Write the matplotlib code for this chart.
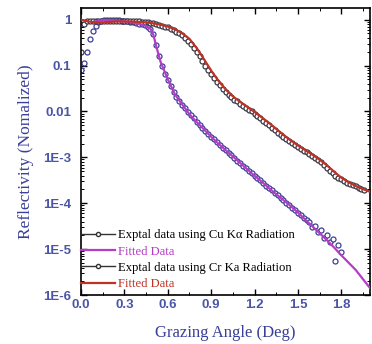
import numpy as np
import matplotlib
matplotlib.use("Agg")
import matplotlib.pyplot as plt
from matplotlib.ticker import FixedLocator, LogLocator, NullFormatter
from matplotlib.lines import Line2D

# ---------------- data (log10 of normalized reflectivity) ----------------
cu_x_start, cu_x_step = 0.0, 0.02
cu_exp_log10 = [-1.10, -0.95, -0.70, -0.42, -0.25, -0.13, -0.06, -0.03, -0.01, 0.00,
                0.00, 0.00, -0.01, -0.01, -0.02, -0.03, -0.04, -0.05, -0.06, -0.07,
                -0.09, -0.10, -0.12, -0.15, -0.20, -0.32, -0.56, -0.80, -1.00, -1.18,
                -1.32, -1.45, -1.58, -1.68, -1.78, -1.86, -1.93, -2.01, -2.08, -2.15,
                -2.22, -2.30, -2.37, -2.43, -2.49, -2.55, -2.61, -2.67, -2.73, -2.79,
                -2.84, -2.90, -2.95, -3.01, -3.07, -3.12, -3.18, -3.23, -3.29, -3.34,
                -3.40, -3.45, -3.50, -3.56, -3.62, -3.66, -3.72, -3.77, -3.82, -3.88,
                -3.92, -3.99, -4.03, -4.10, -4.14, -4.22, -4.25, -4.33, -4.37, -4.40,
                -4.52, -4.50, -4.62, -4.58, -4.75, -4.70, -4.85, -4.78, -5.25, -4.90,
                -5.05]

cr_x_start, cr_x_step = 0.0, 0.02
cr_exp_log10 = [-0.70, -0.10, -0.04, -0.03, -0.03, -0.03, -0.02, -0.02, -0.02, -0.02,
                -0.02, -0.02, -0.02, -0.02, -0.03, -0.03, -0.03, -0.03, -0.04, -0.04,
                -0.04, -0.05, -0.05, -0.06, -0.07, -0.08, -0.09, -0.11, -0.13, -0.15,
                -0.17, -0.20, -0.23, -0.26, -0.30, -0.34, -0.40, -0.46, -0.52, -0.62,
                -0.70, -0.80, -0.90, -1.00, -1.10, -1.18, -1.27, -1.35, -1.43, -1.51,
                -1.58, -1.64, -1.69, -1.74, -1.78, -1.83, -1.87, -1.92, -1.96, -2.00,
                -2.05, -2.10, -2.15, -2.20, -2.25, -2.30, -2.36, -2.41, -2.46, -2.51,
                -2.56, -2.61, -2.65, -2.69, -2.73, -2.77, -2.81, -2.85, -2.89, -2.93,
                -2.97, -3.01, -3.06, -3.11, -3.17, -3.23, -3.29, -3.34, -3.40, -3.44,
                -3.48, -3.52, -3.55, -3.58, -3.61, -3.63, -3.66, -3.68, -3.70]

cu_fit_x = [0.10, 0.15, 0.20, 0.25, 0.30, 0.35, 0.40, 0.45, 0.48, 0.50, 0.52, 0.55,
            0.60, 0.65, 0.70, 0.75, 0.80, 0.85, 0.90, 0.95, 1.00, 1.05, 1.10, 1.15,
            1.20, 1.25, 1.30, 1.35, 1.40, 1.45, 1.50, 1.55, 1.60, 1.65, 1.70, 1.75,
            1.80, 1.85, 1.90, 1.95, 2.00]
cu_fit_log10 = [-0.04, -0.01, -0.01, -0.02, -0.04, -0.06, -0.09, -0.14, -0.20, -0.33,
                -0.58, -0.92, -1.30, -1.63, -1.85, -2.06, -2.23, -2.39, -2.55, -2.70,
                -2.84, -2.98, -3.12, -3.26, -3.40, -3.53, -3.67, -3.80, -3.93, -4.06,
                -4.20, -4.35, -4.50, -4.65, -4.80, -4.96, -5.13, -5.29, -5.45, -5.65,
                -5.85]

cr_fit_x = [0.00, 0.05, 0.10, 0.15, 0.20, 0.25, 0.30, 0.35, 0.40, 0.45, 0.50, 0.55,
            0.60, 0.65, 0.70, 0.75, 0.80, 0.85, 0.90, 0.95, 1.00, 1.05, 1.10, 1.15,
            1.20, 1.25, 1.30, 1.35, 1.40, 1.45, 1.50, 1.55, 1.60, 1.65, 1.70, 1.75,
            1.80, 1.85, 1.90, 1.95, 2.00]
cr_fit_log10 = [0.00, -0.04, -0.06, -0.06, -0.05, -0.04, -0.04, -0.04, -0.05, -0.06,
                -0.08, -0.11, -0.15, -0.21, -0.30, -0.42, -0.62, -0.86, -1.11, -1.33,
                -1.52, -1.67, -1.79, -1.90, -2.01, -2.13, -2.25, -2.38, -2.51, -2.63,
                -2.74, -2.84, -2.94, -3.05, -3.17, -3.31, -3.44, -3.54, -3.62, -3.69,
                -3.75]

x_ticks = [0.0, 0.3, 0.6, 0.9, 1.2, 1.5, 1.8]
x_tick_labels = ["0.0", "0.3", "0.6", "0.9", "1.2", "1.5", "1.8"]
y_ticks = [1e-6, 1e-5, 1e-4, 1e-3, 1e-2, 1e-1, 1]
y_tick_labels = ["1E-6", "1E-5", "1E-4", "1E-3", "0.01", "0.1", "1"]

legend_labels = ["Exptal data using Cu K\u03b1 Radiation", "Fitted Data",
                 "Exptal data using Cr Ka Radiation", "Fitted Data"]

# ---------------- styling ----------------
tick_color = "#4a55a8"
label_color = "#3a3f98"
cu_marker_color = "#3d3f95"
cu_fit_color = "#b53dc6"
cr_marker_color = "#3a3a48"
cr_fit_color = "#bf3326"

fig = plt.figure(figsize=(3.72, 3.44), dpi=100)
ax = fig.add_axes([0.218, 0.142, 0.777, 0.835])

cu_x = cu_x_start + cu_x_step * np.arange(len(cu_exp_log10))
cr_x = cr_x_start + cr_x_step * np.arange(len(cr_exp_log10))

ax.plot(cu_x, np.power(10.0, cu_exp_log10), linestyle="none", marker="o",
        markersize=3.6, markerfacecolor="white", markeredgecolor=cu_marker_color,
        markeredgewidth=0.9, zorder=2)
ax.plot(cu_fit_x, np.power(10.0, cu_fit_log10), color=cu_fit_color, lw=1.6, zorder=3)
ax.plot(cr_x, np.power(10.0, cr_exp_log10), linestyle="none", marker="o",
        markersize=3.6, markerfacecolor="white", markeredgecolor=cr_marker_color,
        markeredgewidth=0.9, zorder=2)
ax.plot(cr_fit_x, np.power(10.0, cr_fit_log10), color=cr_fit_color, lw=1.6, zorder=3)

ax.set_yscale("log")
ax.set_xlim(0.0, 2.0)
ax.set_ylim(1e-6, 1.8)

ax.xaxis.set_major_locator(FixedLocator(x_ticks))
ax.set_xticklabels(x_tick_labels)
ax.xaxis.set_minor_locator(FixedLocator([0.15, 0.45, 0.75, 1.05, 1.35, 1.65, 1.95]))
ax.yaxis.set_major_locator(FixedLocator(y_ticks))
ax.set_yticklabels(y_tick_labels)
ax.yaxis.set_minor_locator(LogLocator(base=10, subs=np.arange(2, 10)))
ax.yaxis.set_minor_formatter(NullFormatter())

ax.tick_params(which="both", direction="in", top=True, right=True, colors="black",
               labelcolor=tick_color)
ax.tick_params(which="major", length=4, width=1.0)
ax.tick_params(which="minor", length=2, width=0.7)
ax.tick_params(axis="y", pad=7)
ax.tick_params(axis="x", pad=3)
for lab in ax.get_xticklabels() + ax.get_yticklabels():
    lab.set_fontfamily("Liberation Sans")
    lab.set_fontweight("bold")
    lab.set_fontsize(9.5)

for sp in ax.spines.values():
    sp.set_linewidth(1.2)

ax.set_xlabel("Grazing Angle (Deg)", family="Liberation Serif", fontsize=12,
              color=label_color, labelpad=10)
ax.set_ylabel("Reflectivity (Nomalized)", family="Liberation Serif", fontsize=12.5,
              color=label_color, labelpad=7)

handles = [
    Line2D([], [], color="#333333", lw=1.0, marker="o", markersize=3,
           markerfacecolor="white", markeredgecolor="#333333"),
    Line2D([], [], color=cu_fit_color, lw=1.6),
    Line2D([], [], color="#333333", lw=1.0, marker="o", markersize=3,
           markerfacecolor="white", markeredgecolor="#333333"),
    Line2D([], [], color=cr_fit_color, lw=1.6),
]
leg = ax.legend(handles, legend_labels, loc="lower left", bbox_to_anchor=(0.0, 0.018),
                frameon=False, borderpad=0, borderaxespad=0, handlelength=2.65,
                handletextpad=0.3, labelspacing=0.33, numpoints=1,
                prop={"family": "Liberation Serif", "size": 9.1})
text_colors = ["black", cu_fit_color, "black", cr_fit_color]
for t, c in zip(leg.get_texts(), text_colors):
    t.set_color(c)

fig.savefig("out.png", dpi=100)
